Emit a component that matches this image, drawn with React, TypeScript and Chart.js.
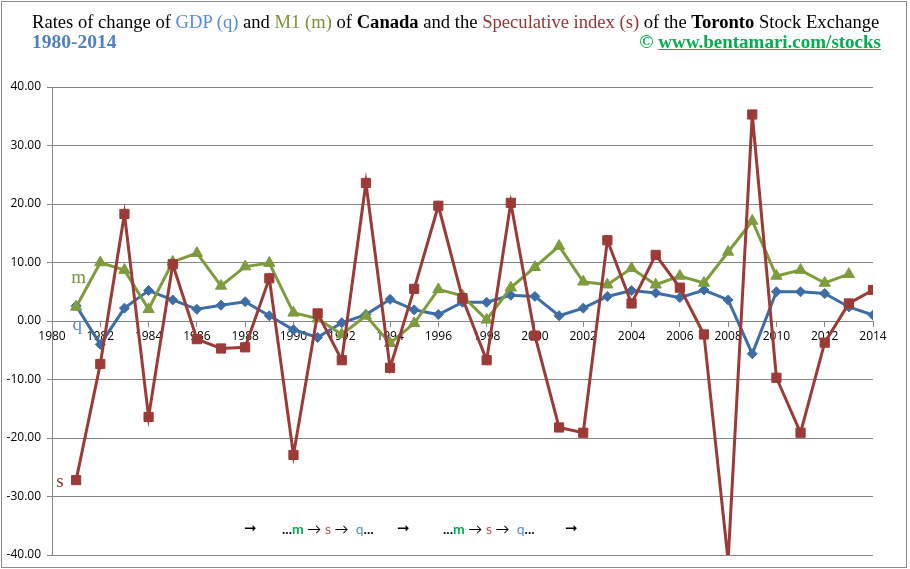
import React, { useEffect, useRef } from "react";
import { Chart, registerables } from "chart.js";

Chart.register(...registerables);

// ---- data ----
const years = [1981, 1982, 1983, 1984, 1985, 1986, 1987, 1988, 1989, 1990, 1991, 1992, 1993, 1994, 1995, 1996, 1997, 1998, 1999, 2000, 2001, 2002, 2003, 2004, 2005, 2006, 2007, 2008, 2009, 2010, 2011, 2012, 2013, 2014];
const gdpQ = [2.6, -4.0, 2.2, 5.2, 3.6, 2.0, 2.7, 3.3, 0.9, -1.5, -2.8, -0.3, 1.1, 3.7, 1.9, 1.1, 3.2, 3.2, 4.4, 4.2, 0.9, 2.2, 4.2, 5.2, 4.8, 4.0, 5.3, 3.6, -5.6, 5.0, 5.0, 4.7, 2.4, 1.0];
const m1M = [2.4, 10.0, 8.7, 2.0, 10.1, 11.6, 6.0, 9.3, 9.9, 1.4, 0.4, -2.3, 0.9, -3.8, -0.4, 5.4, 4.3, 0.2, 5.7, 9.2, 12.8, 6.7, 6.2, 9.0, 6.2, 7.7, 6.5, 11.8, 17.1, 7.7, 8.7, 6.5, 8.0, null];
const specS = [-27.2, -7.35, 18.3, -16.4, 9.7, -3.1, -4.7, -4.5, 7.3, -22.9, 1.3, -6.7, 23.6, -8.0, 5.5, 19.7, 3.9, -6.7, 20.2, -2.5, -18.2, -19.1, 13.8, 3.0, 11.3, 5.7, -2.3, -41.0, 35.3, -9.7, -19.1, -3.7, 3.0, 5.3];

const xMin = 1980;
const xMax = 2014;
const yMin = -40;
const yMax = 40;

const seriesLabels = [
  { text: "m", year: 1981.1, value: 6.5, color: "#77933C" },
  { text: "q", year: 1981.05, value: -1.55, color: "#558ED5" },
  { text: "s", year: 1980.33, value: -28.4, color: "#953735" },
];

const BLUE = "#3E6DA6";
const RED = "#9B3A37";
const GREEN = "#7E9B3E";
const GRID = "#868686";

const toPoints = (vals: (number | null)[]) =>
  years.map((x, i) => ({ x, y: vals[i] }));

const labelPlugin = {
  id: "seriesLabels",
  afterDatasetsDraw(chart: any) {
    const { ctx, scales } = chart;
    ctx.save();
    ctx.font = '19px "Liberation Serif", serif';
    ctx.textAlign = "center";
    ctx.textBaseline = "alphabetic";
    for (const l of seriesLabels) {
      ctx.fillStyle = l.color;
      ctx.fillText(l.text, scales.x.getPixelForValue(l.year), scales.y.getPixelForValue(l.value));
    }
    ctx.restore();
  },
};

export default function App() {
  const ref = useRef<HTMLCanvasElement | null>(null);

  useEffect(() => {
    if (!ref.current) return;
    const tickFont = { family: '"Open Sans", "Liberation Sans", sans-serif', size: 12 };
    const chart = new Chart(ref.current, {
      type: "line",
      data: {
        datasets: [
          {
            label: "s",
            data: toPoints(specS),
            borderColor: RED,
            backgroundColor: RED,
            pointStyle: "rect",
            pointRadius: 6.5,
            pointBorderWidth: 1,
            borderWidth: 3,
            order: 1,
          },
          {
            label: "m",
            data: toPoints(m1M),
            borderColor: GREEN,
            backgroundColor: GREEN,
            pointStyle: "triangle",
            pointRadius: 6.5,
            pointBorderWidth: 1,
            borderWidth: 3,
            order: 2,
          },
          {
            label: "q",
            data: toPoints(gdpQ),
            borderColor: BLUE,
            backgroundColor: BLUE,
            pointStyle: "rectRot",
            pointRadius: 5,
            pointBorderWidth: 1,
            borderWidth: 3,
            order: 3,
          },
        ],
      },
      options: {
        animation: false,
        responsive: true,
        maintainAspectRatio: false,
        layout: { padding: { top: 87, right: 37, bottom: 14, left: 0 } },
        elements: { line: { tension: 0 } },
        plugins: {
          legend: { display: false },
          tooltip: { enabled: false },
          title: { display: false },
        },
        scales: {
          x: {
            type: "linear",
            position: { y: 0 } as any,
            min: xMin,
            max: xMax,
            ticks: {
              stepSize: 2,
              autoSkip: false,
              maxRotation: 0,
              padding: 3,
              color: "#000",
              font: tickFont,
              callback: (v: any) => String(v),
            },
            grid: {
              display: true,
              drawOnChartArea: false,
              drawTicks: true,
              tickLength: 5,
              color: GRID,
            },
            border: { display: true, color: GRID, width: 1 },
          },
          y: {
            type: "linear",
            min: yMin,
            max: yMax,
            ticks: {
              stepSize: 10,
              padding: 6,
              color: "#000",
              font: tickFont,
              callback: (v: any) => Number(v).toFixed(2),
            },
            grid: { color: GRID, lineWidth: 1, tickLength: 5 },
            border: { display: true, color: GRID, width: 1 },
            afterFit: (s: any) => {
              s.width = 52;
            },
          },
        },
      },
      plugins: [labelPlugin],
    });
    return () => chart.destroy();
  }, []);

  const serif = '"Liberation Serif", "Times New Roman", serif';
  const sans = 'Lato, "Open Sans", sans-serif';

  const group = (left: number) => (
    <div
      style={{
        position: "absolute",
        left,
        top: 521,
        fontFamily: sans,
        fontSize: 14,
        lineHeight: "16px",
        whiteSpace: "pre",
      }}
    >
      <b style={{ color: "#111" }}>...</b>
      <span style={{ color: "#00B050", fontWeight: 700 }}>m</span>
      <span style={{ color: "#000" }}> → </span>
      <span style={{ color: "#C0504D" }}>s</span>
      <span style={{ color: "#000" }}> →  </span>
      <span style={{ color: "#558ED5" }}>q</span>
      <b style={{ color: "#111" }}>...</b>
    </div>
  );
  const arrow = (left: number) => (
    <div
      style={{
        position: "absolute",
        left,
        top: 520,
        fontFamily: '"DejaVu Sans", sans-serif',
        fontSize: 15,
        lineHeight: "16px",
        color: "#000",
        fontWeight: 700,
      }}
    >
      ➞
    </div>
  );

  return (
    <div
      style={{
        position: "fixed",
        left: 0,
        top: 0,
        width: 910,
        height: 569,
        background: "#fff",
        overflow: "hidden",
      }}
    >
      <div
        style={{
          position: "absolute",
          left: 1,
          top: 1,
          width: 904,
          height: 565,
          border: "1px solid #8a8a8a",
        }}
      />
      <canvas ref={ref} style={{ position: "absolute", left: 0, top: 0 }} />
      <div
        style={{
          position: "absolute",
          left: 32,
          top: 12,
          fontFamily: serif,
          fontSize: 18.6,
          lineHeight: "19px",
          color: "#000",
          whiteSpace: "nowrap",
        }}
      >
        Rates of change of <span style={{ color: "#558ED5" }}>GDP (q)</span> and{" "}
        <span style={{ color: "#77933C" }}>M1 (m)</span> of <b>Canada</b> and the{" "}
        <span style={{ color: "#953735" }}>Speculative index (s)</span> of the <b>Toronto</b> Stock Exchange
      </div>
      <div
        style={{
          position: "absolute",
          left: 32,
          top: 32,
          fontFamily: serif,
          fontSize: 19.5,
          lineHeight: "20px",
          color: "#4F81BD",
          fontWeight: 700,
        }}
      >
        1980-2014
      </div>
      <div
        style={{
          position: "absolute",
          right: 29,
          top: 32,
          fontFamily: serif,
          fontSize: 19,
          lineHeight: "20px",
          color: "#00B050",
          fontWeight: 700,
          whiteSpace: "nowrap",
        }}
      >
        © <span style={{ textDecoration: "underline" }}>www.bentamari.com/stocks</span>
      </div>
      {arrow(244)}
      {group(282)}
      {arrow(397)}
      {group(443)}
      {arrow(565)}
    </div>
  );
}
